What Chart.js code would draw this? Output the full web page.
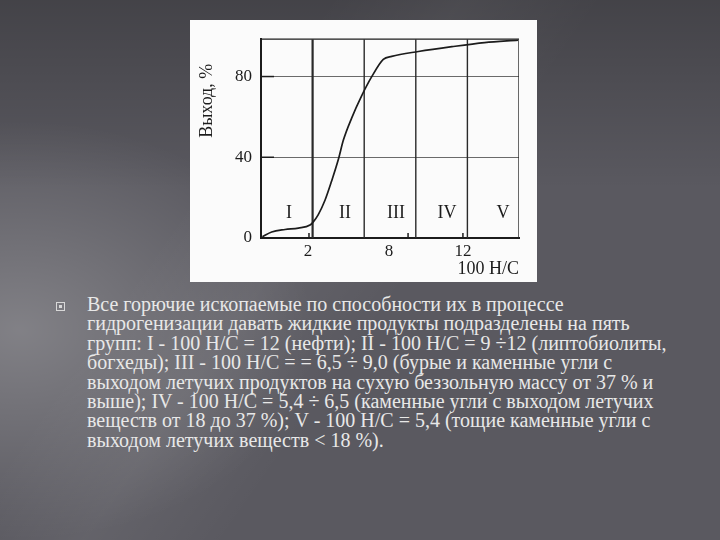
<!DOCTYPE html>
<html>
<head>
<meta charset="utf-8">
<script src="https://cdn.jsdelivr.net/npm/chart.js@4/dist/chart.umd.min.js"></script>
<style>
  html, body { margin: 0; padding: 0; }
  body {
    width: 720px; height: 540px; overflow: hidden; position: relative;
    background-color: #5a5960;
    background-image:
      linear-gradient(180deg, rgba(0,0,0,0.25) 0%, rgba(0,0,0,0) 35%),
      radial-gradient(ellipse 420px 300px at 20px 330px, rgba(255,255,255,0.24), rgba(255,255,255,0) 70%),
      linear-gradient(125deg, rgba(255,255,255,0) 30%, rgba(255,255,255,0.06) 42%, rgba(255,255,255,0) 55%);
  }
  #panel { position: absolute; left: 190px; top: 20px; width: 347px; height: 262px; background: #fbfbfb; }
  #bullet {
    position: absolute; left: 56px; top: 302px; width: 7px; height: 7px;
    border: 1px solid #d8d8d8;
  }
  #bullet::after {
    content: ""; position: absolute; left: 2px; top: 2px; width: 3px; height: 3px; background: #d8d8d8;
  }
  #text {
    position: absolute; left: 87px; top: 295px;
    font-family: "Liberation Serif", "DejaVu Serif", serif;
    font-size: 20px; line-height: 19.4px; color: #e8e8e8;
  }
  #text div { white-space: nowrap; }
</style>
</head>
<body>
<div id="panel"><canvas id="chart" width="347" height="262"></canvas></div>
<div id="bullet"></div>
<div id="text"></div>

<script>
// curve: yield (%) vs position along the 100 H/C axis
const curveX = [0.08, 0.62, 1.4, 2.17, 2.85, 3.04, 3.33, 3.72, 4.1, 4.5, 4.79, 5.27, 5.85, 6.43, 7.11, 7.6, 9.15, 11.1, 13.0, 14.94];
const curveY = [0.6, 3.0, 4.2, 4.9, 6.4, 8, 11.6, 18.7, 28.1, 39, 48.5, 59.4, 70.4, 79.8, 88.5, 90, 92.4, 94.8, 96.8, 98];

// group boundaries and labels
const bandEdges = [3, 6, 9, 12, 15];
const bandLabels = ['I', 'II', 'III', 'IV', 'V'];
const bandLabelX = [1.63, 4.88, 7.85, 10.81, 14.07];
const bandLabelY = 12.2;

// axis ticks
const xTickPos = [2.73, 7.44, 11.74];
const xTickLabels = ['2', '8', '12'];
const xTickMarks = [2.79, 8.55, 11.74];
const yTicks = [0, 40, 80];
const yMax = 98.5;

const textLines = [
  'Все горючие ископаемые по способности их в процессе',
  'гидрогенизации давать жидкие продукты подразделены на пять',
  'групп: I - 100 Н/С = 12 (нефти); II - 100 Н/С = 9 ÷12 (липтобиолиты,',
  'богхеды); III - 100 Н/С = = 6,5 ÷ 9,0 (бурые и каменные угли с',
  'выходом летучих продуктов на сухую беззольную массу от 37 % и',
  'выше); IV - 100 Н/С = 5,4 ÷ 6,5 (каменные угли с выходом летучих',
  'веществ от 18 до 37 %); V - 100 Н/С = 5,4 (тощие каменные угли с',
  'выходом летучих веществ < 18 %).'
];

const textBox = document.getElementById('text');
textLines.forEach(t => {
  const d = document.createElement('div');
  d.textContent = t;
  textBox.appendChild(d);
});

const serif = '"Liberation Serif", "DejaVu Serif", serif';
const ink = '#1c1c1c';

const datasets = bandEdges.map(e => ({
  data: [{ x: e, y: 0 }, { x: e, y: yMax }],
  borderColor: '#2a2a2a',
  borderWidth: e === 3 ? 2.2 : 1.4,
  pointRadius: 0,
  order: 2
}));
datasets.push({
  data: curveX.map((x, i) => ({ x: x, y: curveY[i] })),
  borderColor: ink,
  borderWidth: 1.7,
  pointRadius: 0,
  cubicInterpolationMode: 'monotone',
  order: 1
});

// extra decorations: frame, tick stubs, group names, y title
const decor = {
  id: 'decor',
  afterDatasetsDraw(chart) {
    const { ctx, chartArea: a, scales: { x, y } } = chart;
    ctx.save();
    ctx.strokeStyle = ink;
    ctx.lineWidth = 1.2;
    ctx.beginPath();
    ctx.moveTo(a.left, y.getPixelForValue(yMax));
    ctx.lineTo(a.right, y.getPixelForValue(yMax));
    ctx.stroke();

    ctx.lineWidth = 1.5;
    yTicks.slice(1).forEach(v => {
      const py = y.getPixelForValue(v);
      ctx.beginPath(); ctx.moveTo(a.left, py); ctx.lineTo(a.left + 13, py); ctx.stroke();
    });
    xTickMarks.forEach(v => {
      const px = x.getPixelForValue(v);
      ctx.beginPath(); ctx.moveTo(px, a.bottom); ctx.lineTo(px, a.bottom - 5); ctx.stroke();
    });

    ctx.fillStyle = ink;
    ctx.font = '18px ' + serif;
    ctx.textAlign = 'center';
    ctx.textBaseline = 'middle';
    bandLabels.forEach((t, i) => {
      ctx.fillText(t, x.getPixelForValue(bandLabelX[i]), y.getPixelForValue(bandLabelY));
    });

    ctx.translate(17, y.getPixelForValue(68));
    ctx.rotate(-Math.PI / 2);
    ctx.font = '18px ' + serif;
    ctx.fillText('Выход, %', 0, 0);
    ctx.restore();
  }
};

new Chart(document.getElementById('chart'), {
  type: 'line',
  data: { datasets: datasets },
  options: {
    responsive: false,
    animation: false,
    layout: { padding: { top: 9, right: 18, left: 0, bottom: 0 } },
    plugins: { legend: { display: false }, tooltip: { enabled: false } },
    scales: {
      x: {
        type: 'linear',
        min: 0,
        max: 15,
        afterFit: s => { s.height = 44; },
        afterBuildTicks: s => { s.ticks = xTickPos.map(v => ({ value: v })); },
        ticks: {
          color: ink,
          font: { family: serif, size: 17 },
          padding: 3,
          maxRotation: 0,
          callback: (v, i) => xTickLabels[i]
        },
        grid: { display: false, drawTicks: false },
        border: { display: true, color: ink, width: 2 },
        title: {
          display: true,
          text: '100 H/C',
          align: 'end',
          color: ink,
          font: { family: serif, size: 18 },
          padding: { top: 0, bottom: 2 }
        }
      },
      y: {
        min: 0,
        max: yMax,
        afterFit: s => { s.width = 71; },
        afterBuildTicks: s => { s.ticks = yTicks.map(v => ({ value: v })); },
        ticks: {
          color: ink,
          font: { family: serif, size: 17 },
          padding: 9
        },
        grid: { color: '#6a6a6a', lineWidth: 1, drawTicks: false },
        border: { display: true, color: ink, width: 2 }
      }
    }
  },
  plugins: [decor]
});
</script>
</body>
</html>
